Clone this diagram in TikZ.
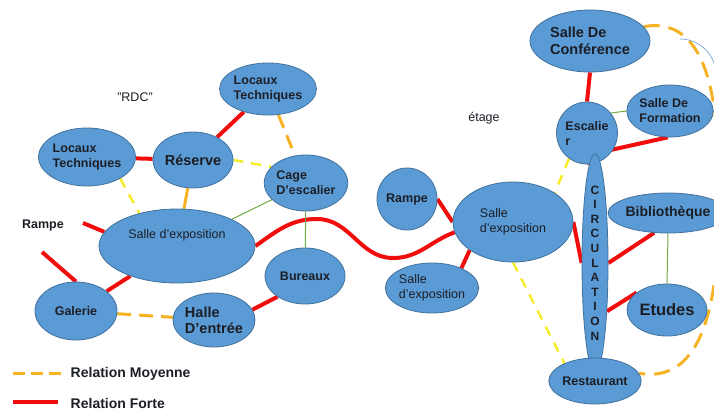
\documentclass[tikz,border=0pt]{standalone}
\usepackage{fontspec}
\setmainfont{Liberation Sans}
\usetikzlibrary{shapes.geometric,backgrounds}
\definecolor{placeblue}{HTML}{5B9BD5}
\definecolor{placeedge}{HTML}{41719C}
\definecolor{textdark}{HTML}{1C1E26}
\definecolor{redline}{HTML}{F20D0D}
\definecolor{orangeline}{HTML}{F5B323}
\definecolor{yellowline}{HTML}{F7EC2A}
\definecolor{greenline}{HTML}{70AD47}
\definecolor{thinblue}{HTML}{7BA7DB}
\newcommand\sz[2]{\fontsize{#1}{#2}\selectfont}

\begin{document}
\begin{tikzpicture}[x=1pt,y=-1pt,thick]
    % `place' is used for every room (blue ellipses).
    % `forte' and `moyenne' are the two relations of the legend,
    % `faible' the light yellow dashes, `lien' the thin green links.
    \tikzstyle{place} = [draw=placeedge,line width=0.8pt,fill=placeblue,shape=ellipse,inner sep=0pt,align=left,text=textdark,font=\sz{12.5}{15}\bfseries]
    \tikzstyle{forte} = [draw=redline,line width=4pt]
    \tikzstyle{moyenne} = [draw=orangeline,line width=3pt,dash pattern=on 14pt off 8pt]
    \tikzstyle{faible} = [draw=yellowline,line width=2.5pt,dash pattern=on 10pt off 8pt]
    \tikzstyle{lien} = [draw=greenline,line width=1pt]
    \tikzstyle{caption} = [text=textdark,font=\sz{12.5}{15}]
    %
    \useasboundingbox (0,0) rectangle (714,412);
    \clip (0,0) rectangle (714,412);
    %
    % RDC
    \node[caption] (rdc) at (135,97) {"RDC"};
    \node[place,minimum width=80pt,minimum height=52pt] (techA) at (268,89) {Locaux\\Techniques};
    \node[place,minimum width=84pt,minimum height=58pt] (techB) at (87,157) {Locaux\\Techniques};
    \node[place,minimum width=80pt,minimum height=56pt,font=\sz{14.5}{17}\bfseries] (reserve) at (193,160) {Réserve};
    \node[place,minimum width=82pt,minimum height=56pt] (cage) at (306,183) {Cage\\D'escalier};
    \node[place,minimum width=156pt,minimum height=74pt,font=\sz{12.5}{15},text depth=24pt] (salleR) at (177,246) {Salle d’exposition};
    \node[caption,font=\sz{12.5}{15}\bfseries] (rampeR) at (43,225) {Rampe};
    \node[place,minimum width=82pt,minimum height=58pt] (galerie) at (76,311) {Galerie};
    \node[place,minimum width=82pt,minimum height=54pt,font=\sz{14.5}{16}\bfseries] (halle) at (214,320) {Halle\\D'entrée};
    \node[place,minimum width=80pt,minimum height=56pt] (bureaux) at (305,276) {Bureaux};
    \coordinate (rampeEnd) at (83,223);
    \coordinate (galEnd) at (42,252);
    \coordinate (crest) at (317,219);
    \coordinate (trough) at (393,258);
    %
    % etage
    \node[caption] (etage) at (484,118) {étage};
    \node[place,minimum width=120pt,minimum height=62pt,font=\sz{14.5}{17}\bfseries] (conf) at (590,41) {Salle De\\Conférence};
    \node[place,minimum width=56pt,minimum height=62pt] (esc) at (587,133) {Escalie\\r};
    \node[place,minimum width=84pt,minimum height=52pt] (form) at (670,111) {Salle De\\Formation};
    \node[place,minimum width=60pt,minimum height=62pt] (rampeE) at (407,199) {Rampe};
    \node[place,minimum width=120pt,minimum height=80pt,font=\sz{12.5}{15}] (salleE) at (513,222) {Salle\\d’exposition};
    \node[place,minimum width=84pt,minimum height=50pt,font=\sz{12.5}{15}] (salleS) at (432,288) {Salle\\d’exposition};
    \node[place,minimum width=26pt,minimum height=166pt,align=center,font=\sz{12}{14.6}\bfseries] (circ) at (595,263) {C\\I\\R\\C\\U\\L\\A\\T\\I\\O\\N};
    \node[place,minimum width=106pt,minimum height=40pt,font=\sz{14}{16}\bfseries] (bib) at (668,213) {Bibliothèque};
    \node[place,minimum width=80pt,minimum height=52pt,font=\sz{16.5}{19}\bfseries] (etudes) at (667,310) {Etudes};
    \node[place,minimum width=84pt,minimum height=46pt] (rest) at (595,381) {Restaurant};
    \coordinate (loopE) at (719,200);
    \coordinate (blueA) at (680,39);
    \coordinate (blueB) at (716,75);
    %
    % legend
    \coordinate (moyA) at (13,373);
    \coordinate (moyB) at (62,373);
    \coordinate (forA) at (13,402);
    \coordinate (forB) at (58,402);
    \node[caption,anchor=west,font=\sz{14}{16}\bfseries] (moyT) at (67,374) {Relation Moyenne};
    \node[caption,anchor=west,font=\sz{14}{16}\bfseries] (forT) at (67,403) {Relation Forte};
    %
    \begin{pgfonlayer}{background}
        % Strong relations.
        \draw[forte] (techA) -- (reserve);
        \draw[forte] (techB) -- (reserve);
        \draw[forte] (rampeEnd) -- (salleR.169);
        \draw[forte] (galEnd) -- (galerie.north);
        \draw[forte] (salleR) -- (galerie);
        \draw[forte] (halle.15) -- (bureaux.217);
        \draw[forte] (salleR.east) to[out=35,in=180] (crest) to[out=0,in=180] (trough) to[out=0,in=200] (salleE.190);
        \draw[forte] (rampeE.east) -- (salleE.west);
        \draw[forte] (salleS.34) -- (salleE.213);
        \draw[forte] (conf.south) -- (esc.north);
        \draw[forte] (esc) -- (circ);
        \draw[forte] (form.265) -- (circ.north);
        \draw[forte] (salleE.east) -- (circ.west);
        \draw[forte] (bib.235) -- (circ.east);
        \draw[forte] (etudes.150) -- (circ.-76);
        \draw[forte] (circ.south) -- (rest.north);
        % Medium relations.
        \draw[moyenne] (techA) -- (cage);
        \draw[moyenne] (galerie) -- (halle);
        \draw[moyenne,solid] (reserve) -- (salleR);
        \draw[moyenne,dash pattern=on 16pt off 9pt] (conf.15) to[out=10,in=90] (loopE) to[out=-90,in=-10] (rest.10);
        \draw[faible] (reserve.east) -- (cage.155);
        \draw[faible] (techB.-33) -- (salleR.139);
        \draw[faible] (esc.235) -- (salleE.35);
        \draw[faible] (salleE.south) -- (rest.150);
        % Thin links.
        \draw[lien] (cage) -- (salleR);
        \draw[lien] (cage) -- (bureaux);
        \draw[lien] (esc.40) -- (form.west);
        \draw[lien] (bib.south) -- (etudes.north);
        \draw[thinblue,line width=0.7pt] (blueA) to[out=0,in=90] (blueB);
        % Legend.
        \draw[moyenne,dash pattern=on 12pt off 6pt] (moyA) -- (moyB);
        \draw[forte] (forA) -- (forB);
    \end{pgfonlayer}
\end{tikzpicture}
\end{document}
